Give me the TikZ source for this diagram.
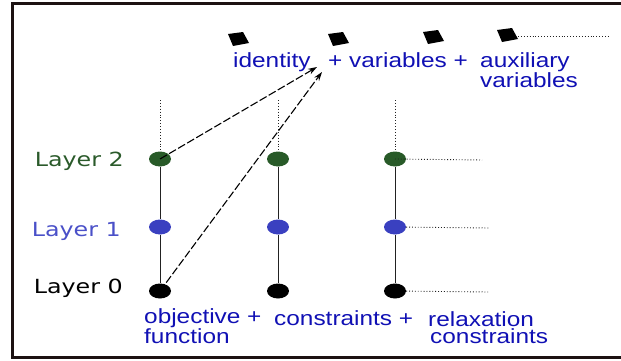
\documentclass[tikz,border=0pt]{standalone}
\usepackage{fontspec}
\usetikzlibrary{arrows.meta,shapes.geometric}
\newfontfamily\labelfont[FakeStretch=1.19]{Liberation Sans}
\newfontfamily\layerfont[FakeStretch=1.22]{DejaVu Sans}
\definecolor{textblue}{RGB}{16,16,180}
\definecolor{layergreen}{RGB}{42,90,42}
\definecolor{layerblue}{RGB}{74,80,200}
\definecolor{dotgreen}{RGB}{40,90,40}
\definecolor{dotblue}{RGB}{58,64,192}
\definecolor{linegray}{RGB}{34,34,34}
\definecolor{framecol}{RGB}{28,18,18}
\tikzset{marker/.pic={\fill (-10,5) -- (5,7) -- (11,-4) -- (-5,-7) -- cycle;}}

\begin{document}
\begin{tikzpicture}[x=1pt, y=1pt,
    dot/.style={ellipse, minimum width=22pt, minimum height=15pt, inner sep=0pt},
    layer/.style={font=\layerfont\fontsize{19.5}{22}\selectfont, anchor=base east, inner sep=0pt},
    term/.style={font=\labelfont\fontsize{20.5}{17}\selectfont, text=textblue, inner sep=0pt, align=left},
    termtight/.style={term, font=\labelfont\fontsize{20.5}{12.5}\selectfont},
    rung/.style={draw=linegray, line width=1pt},
    trail/.style={draw=linegray, dotted, line width=0.9pt},
    link/.style={dash pattern=on 8pt off 2.5pt, line width=1.1pt, -{Stealth[length=9pt, width=6pt]}}]
    \useasboundingbox (0,0) rectangle (621,360);
    \draw[line width=3pt, draw=framecol] (630,356.5) -- (12,356.5) -- (12,3) -- (630,3);

    % the three columns
    \foreach \x/\n in {160/1, 278/2, 395/3}{
        \node[dot, fill=dotgreen] (g\n) at (\x,201) {};
        \node[dot, fill=dotblue] (b\n) at (\x,133) {};
        \node[dot, fill=black] (k\n) at (\x,69) {};
        \coordinate (t\n) at (\x,260);
        \draw[trail] (t\n) -- (g\n);
        \draw[rung] (g\n) -- (b\n) -- (k\n);
    }
    \coordinate (e2) at (482,200);
    \coordinate (e1) at (490,132);
    \coordinate (e0) at (488,68);
    \draw[trail] (g3.center) -- (e2);
    \draw[trail] (b3) -- (e1);
    \draw[trail] (k3) -- (e0);

    \node[layer, text=layergreen] (l2) at (124,194) {Layer 2};
    \node[layer, text=layerblue] (l1) at (121,124) {Layer 1};
    \node[layer, text=black] (l0) at (123,67) {Layer 0};

    % top row
    \foreach \x/\y in {238/321, 338/321, 433/323, 507/325}
        \pic at (\x,\y) {marker};
    \coordinate (m4) at (518,324);
    \coordinate (m5) at (608,324);
    \draw[trail] (m4) -- (m5);
    \node[term, anchor=base west] (idt) at (233,293) {identity};
    \node[term, anchor=base west] (var) at (328,293) {+ variables +};
    \node[term, anchor=north west] (aux) at (480,308) {auxiliary\\variables};

    % bottom row
    \node[termtight, anchor=north west] (obj) at (144,52) {objective\\function};
    \node[term, anchor=base west] (pl) at (247,37) {+};
    \node[term, anchor=base west] (con) at (274,35) {constraints +};
    \node[term, anchor=north west] (rel) at (428,49) {relaxation\\\hspace{2pt}constraints};

    \coordinate (tipA) at (317,293);
    \coordinate (tipB) at (322,288);
    \draw[link] (g1.center) -- (tipA);
    \draw[link] (k1.center) -- (tipB);
\end{tikzpicture}
\end{document}
